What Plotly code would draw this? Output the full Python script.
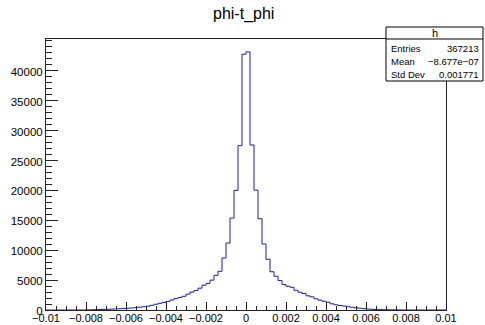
import numpy as np
import plotly.graph_objects as go

# ---------------- data ----------------
title_text = "phi-t_phi"
x_min, x_max = -0.01, 0.01
counts = [
    0, 0, 0, 0, 0, 0, 0, 0, 0, 0,
    25, 40, 60, 80, 100, 120, 150, 180, 220, 260,
    300, 340, 400, 470, 550, 640, 780, 960, 1120, 1270,
    1450, 1680, 1900, 2100, 2300, 2650, 3000, 3250, 3650, 4150,
    4450, 5000, 5800, 6470, 8700, 11200, 15380, 20000, 27490, 42785,
    43170, 27600, 20050, 15260, 11040, 8480, 6400, 5640, 4920, 4250,
    3970, 3800, 3300, 2970, 2750, 2370, 2200, 1870, 1640, 1470,
    1300, 1030, 870, 750, 660, 560, 460, 370, 290, 220,
    160, 120, 90, 70, 50, 40, 30, 20, 10, 0,
    0, 0, 0, 0, 0, 0, 0, 0, 0, 0,
]
x_tick_vals = [-0.01, -0.008, -0.006, -0.004, -0.002, 0, 0.002, 0.004, 0.006, 0.008, 0.01]
x_tick_text = ["\u22120.01", "\u22120.008", "\u22120.006", "\u22120.004", "\u22120.002", "0",
               "0.002", "0.004", "0.006", "0.008", "0.01"]
y_tick_vals = [0, 5000, 10000, 15000, 20000, 25000, 30000, 35000, 40000]
y_tick_text = ["0", "5000", "10000", "15000", "20000", "25000", "30000", "35000", "40000"]
stats_title = "h"
stats_labels = ["Entries", "Mean", "Std Dev"]
stats_values = ["367213", "\u22128.677e\u221207", "0.001771"]

# ---------------- layout geometry (pixels) ----------------
W, H = 485, 325
L, R, T, B = 46, 446, 39, 310
FONT = "Liberation Sans, Arial, Helvetica, sans-serif"
LINE_COL = "#222222"


def px_x(px):
    return (px - L) / (R - L)


def px_y(py):
    return (B - py) / (B - T)


edges = np.linspace(x_min, x_max, len(counts) + 1)
y_steps = list(counts) + [counts[-1]]

fig = go.Figure()
fig.add_trace(go.Scatter(
    x=edges, y=y_steps, mode="lines",
    line=dict(shape="hv", color="#1c1ca8", width=1),
    hoverinfo="skip", showlegend=False,
))

y_top = 1.05 * max(counts)

fig.update_layout(
    width=W, height=H,
    margin=dict(l=L, r=W - R, t=T, b=H - B, pad=0, autoexpand=False),
    paper_bgcolor="white", plot_bgcolor="white",
    font=dict(family=FONT, color="black"),
    showlegend=False,
    xaxis=dict(
        range=[x_min, x_max], showgrid=False, zeroline=False,
        showline=True, linecolor=LINE_COL, linewidth=1, mirror=True,
        ticks="inside", ticklen=8, tickcolor=LINE_COL, tickwidth=1,
        tickvals=x_tick_vals, ticktext=x_tick_text,
        tickfont=dict(size=11, family=FONT, color="black"),
        ticklabelstandoff=-2,
        minor=dict(dtick=0.0005, tick0=0, ticks="inside", ticklen=4,
                   tickcolor=LINE_COL, showgrid=False),
        automargin=False, fixedrange=True,
    ),
    yaxis=dict(
        range=[0, y_top], showgrid=False, zeroline=False,
        showline=True, linecolor=LINE_COL, linewidth=1, mirror=True,
        ticks="inside", ticklen=12, tickcolor=LINE_COL, tickwidth=1,
        tickvals=y_tick_vals, ticktext=y_tick_text,
        tickfont=dict(size=11.5, family=FONT, color="black"),
        ticklabelshift=1,
        minor=dict(dtick=1000, tick0=0, ticks="inside", ticklen=6,
                   tickcolor=LINE_COL, showgrid=False),
        automargin=False, fixedrange=True,
    ),
)

# title
fig.add_annotation(
    x=px_x(243), y=px_y(14), xref="paper", yref="paper",
    text=title_text, showarrow=False, xanchor="center", yanchor="middle",
    font=dict(size=16, family=FONT, color="black"),
)

# stats box
bx0, bx1, by0, by1, bsep = 386, 483, 27, 81, 39
fig.add_shape(type="rect", xref="paper", yref="paper",
              x0=px_x(bx0), x1=px_x(bx1), y0=px_y(by1), y1=px_y(by0),
              fillcolor="white", line=dict(color="black", width=1), layer="above")
fig.add_shape(type="line", xref="paper", yref="paper",
              x0=px_x(bx0), x1=px_x(bx1), y0=px_y(bsep), y1=px_y(bsep),
              line=dict(color="black", width=1), layer="above")
fig.add_annotation(
    x=px_x((bx0 + bx1) / 2), y=px_y((by0 + bsep) / 2), xref="paper", yref="paper",
    text=stats_title, showarrow=False, xanchor="center", yanchor="middle",
    font=dict(size=11, family=FONT, color="black"),
)
row_y = [48, 61, 74]
for lab, val, ry in zip(stats_labels, stats_values, row_y):
    fig.add_annotation(
        x=px_x(bx0 + 3), y=px_y(ry), xref="paper", yref="paper",
        text=lab, showarrow=False, xanchor="left", yanchor="middle",
        font=dict(size=9.5, family=FONT, color="black"),
    )
    fig.add_annotation(
        x=px_x(bx1 - 2), y=px_y(ry), xref="paper", yref="paper",
        text=val, showarrow=False, xanchor="right", yanchor="middle",
        font=dict(size=9.5, family=FONT, color="black"),
    )

fig.write_html("out.html")
